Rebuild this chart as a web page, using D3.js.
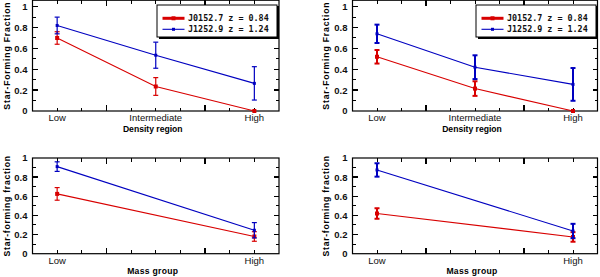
<!DOCTYPE html>
<html><head><meta charset="utf-8">
<script src="https://cdn.jsdelivr.net/npm/d3@7"></script>
<style>body{margin:0;background:#fff}</style>
</head><body>
<svg id="c" width="600" height="277" xmlns="http://www.w3.org/2000/svg"></svg>
<script>
// ---- data ----
const densityCats = ["Low", "Intermediate", "High"];
const massCats = ["Low", "High"];
const seriesNames = ["J0152.7 z = 0.84", "J1252.9 z = 1.24"];
const yTickValues = [0, 0.2, 0.4, 0.6, 0.8, 1];
const yTickLabels = ["0", "0.2", "0.4", "0.6", "0.8", "1"];
const yMinorValues = [0.1, 0.3, 0.5, 0.7, 0.9];

// top-left: density, sample A
const redA = [0.70, 0.235, 0.0];
const redAErr = [0.06, 0.085, 0.0];
const blueA = [0.82, 0.535, 0.265];
const blueAErr = [0.08, 0.125, 0.16];
// top-right: density, sample B
const redB = [0.52, 0.215, 0.0];
const redBErr = [0.065, 0.07, 0.0];
const blueB = [0.74, 0.42, 0.255];
const blueBErr = [0.088, 0.114, 0.157];
// bottom-left: mass, sample A
const redC = [0.625, 0.18];
const redCErr = [0.066, 0.05];
const blueC = [0.91, 0.245];
const blueCErr = [0.05, 0.08];
// bottom-right: mass, sample B
const redD = [0.42, 0.175];
const redDErr = [0.055, 0.05];
const blueD = [0.875, 0.237];
const blueDErr = [0.07, 0.075];

const RED = "#d80000", BLUE = "#0000c0";
const svg = d3.select("#c");

function panel(cfg) {
  const g = svg.append("g");
  const x = d3.scaleLinear().domain([-0.25, 2.25]).range([cfg.left, cfg.right]);
  const y = d3.scaleLinear().domain([0, 1]).range([cfg.bottom, cfg.y1]);
  const fTop = y(cfg.yMax);
  const n = cfg.cats.length;
  const pos = i => i * 2 / (n - 1);

  // ticks (inward, all four sides)
  const xMinor = d3.range(0, 2.001, 0.25).filter(v => v !== 0.5 && v !== 1.5);
  const xMajor = [0.5, 1.5];
  const tk = g.append("g").attr("stroke", "#000").attr("stroke-width", 1).attr("shape-rendering", "crispEdges");
  xMinor.forEach(v => {
    tk.append("line").attr("x1", x(v)).attr("x2", x(v)).attr("y1", cfg.bottom).attr("y2", cfg.bottom - 3.5);
    tk.append("line").attr("x1", x(v)).attr("x2", x(v)).attr("y1", fTop).attr("y2", fTop + 3.5);
  });
  xMajor.forEach(v => {
    tk.append("line").attr("x1", x(v)).attr("x2", x(v)).attr("y1", cfg.bottom).attr("y2", cfg.bottom - 6).attr("stroke-width", 1.5);
    tk.append("line").attr("x1", x(v)).attr("x2", x(v)).attr("y1", fTop).attr("y2", fTop + 6).attr("stroke-width", 1.5);
  });
  yTickValues.filter(v => v > 0 && y(v) > fTop + 1).forEach(v => {
    tk.append("line").attr("x1", cfg.left).attr("x2", cfg.left + 5).attr("y1", y(v)).attr("y2", y(v)).attr("stroke-width", 1.5);
    tk.append("line").attr("x1", cfg.right).attr("x2", cfg.right - 5).attr("y1", y(v)).attr("y2", y(v)).attr("stroke-width", 1.5);
  });
  yMinorValues.forEach(v => {
    tk.append("line").attr("x1", cfg.left).attr("x2", cfg.left + 3).attr("y1", y(v)).attr("y2", y(v));
    tk.append("line").attr("x1", cfg.right).attr("x2", cfg.right - 3).attr("y1", y(v)).attr("y2", y(v));
  });

  // frame
  g.append("rect").attr("x", cfg.left).attr("y", fTop)
    .attr("width", cfg.right - cfg.left).attr("height", cfg.bottom - fTop)
    .attr("fill", "none").attr("stroke", "#000").attr("stroke-width", 1.2);

  // y tick labels
  g.append("g").selectAll("text").data(yTickValues).join("text")
    .attr("x", cfg.left - 5).attr("y", d => y(d)).attr("dy", "0.36em")
    .attr("text-anchor", "end").attr("font-family", "Liberation Sans, Arial, sans-serif")
    .attr("font-size", 9.5).attr("font-weight", "bold").attr("fill", "#111")
    .text((d, i) => yTickLabels[i]);
  // x tick labels
  g.append("g").selectAll("text").data(cfg.cats).join("text")
    .attr("x", (d, i) => x(pos(i))).attr("y", cfg.bottom + 9.8)
    .attr("text-anchor", "middle").attr("font-family", "Liberation Sans, Arial, sans-serif")
    .attr("font-size", 9.5).attr("fill", "#111").text(d => d);
  // axis titles
  g.append("text").attr("x", (cfg.left + cfg.right) / 2 - 3).attr("y", cfg.bottom + 20.7)
    .attr("text-anchor", "middle").attr("font-family", "Liberation Sans, Arial, sans-serif")
    .attr("font-size", 8.6).attr("font-weight", "bold").attr("letter-spacing", cfg.xls).text(cfg.xlabel);
  g.append("text").attr("transform", `translate(${cfg.ylx},${(fTop + cfg.bottom) / 2}) rotate(-90)`)
    .attr("text-anchor", "middle").attr("font-family", "Liberation Sans, Arial, sans-serif")
    .attr("font-size", 8.6).attr("font-weight", "bold").attr("letter-spacing", cfg.yls).text(cfg.ylabel);

  // series
  const series = [
    {vals: cfg.red, err: cfg.redErr, color: RED, ms: 4},
    {vals: cfg.blue, err: cfg.blueErr, color: BLUE, ms: 3}
  ];
  const line = d3.line().x(d => x(d.p)).y(d => y(d.v));
  series.forEach(s => {
    const pts = s.vals.map((v, i) => ({p: pos(i), v, e: s.err[i]}));
    g.append("path").datum(pts).attr("d", line).attr("fill", "none")
      .attr("stroke", s.color).attr("stroke-width", 1.1);
    const eg = g.append("g").attr("stroke", s.color).attr("stroke-width", cfg.ebw);
    pts.filter(d => d.e > 0).forEach(d => {
      eg.append("line").attr("x1", x(d.p)).attr("x2", x(d.p)).attr("y1", y(d.v - d.e)).attr("y2", y(d.v + d.e));
      eg.append("line").attr("x1", x(d.p) - 2.5).attr("x2", x(d.p) + 2.5).attr("y1", y(d.v - d.e)).attr("y2", y(d.v - d.e));
      eg.append("line").attr("x1", x(d.p) - 2.5).attr("x2", x(d.p) + 2.5).attr("y1", y(d.v + d.e)).attr("y2", y(d.v + d.e));
    });
    g.append("g").selectAll("rect").data(pts).join("rect")
      .attr("x", d => x(d.p) - s.ms / 2).attr("y", d => y(d.v) - s.ms / 2)
      .attr("width", s.ms).attr("height", s.ms).attr("fill", s.color);
  });

  // legend
  if (cfg.legend) {
    const L = cfg.legend;
    const lg = g.append("g");
    lg.append("rect").attr("x", L.x + 2).attr("y", L.y + 2).attr("width", 120).attr("height", 32).attr("fill", "#000");
    lg.append("rect").attr("x", L.x).attr("y", L.y).attr("width", 120).attr("height", 32)
      .attr("fill", "#fff").attr("stroke", "#000").attr("stroke-width", 1);
    const rows = [{c: RED, w: 3, ms: 4, dy: 13.3}, {c: BLUE, w: 1.1, ms: 3, dy: 24.3}];
    rows.forEach((r, i) => {
      lg.append("line").attr("x1", L.x + 5.5).attr("x2", L.x + 27.5).attr("y1", L.y + r.dy).attr("y2", L.y + r.dy)
        .attr("stroke", r.c).attr("stroke-width", r.w);
      lg.append("rect").attr("x", L.x + 16.5 - r.ms / 2).attr("y", L.y + r.dy - r.ms / 2)
        .attr("width", r.ms).attr("height", r.ms).attr("fill", r.c);
      lg.append("text").attr("x", L.x + 31).attr("y", L.y + r.dy).attr("dy", "0.36em")
        .attr("font-family", "DejaVu Sans Mono, monospace").attr("font-size", 8.4).attr("font-weight", "bold")
        .attr("fill", "#111").text(seriesNames[i]);
    });
  }
}

panel({left: 32.5, right: 279, bottom: 111, y1: 6.7, yMax: 1.062, cats: densityCats,
  red: redA, redErr: redAErr, blue: blueA, blueErr: blueAErr,
  xlabel: "Density region", ylabel: "Star-Forming Fraction", ylx: 9.5, xls: 0, yls: 0.85, ebw: 1.2,
  legend: {x: 157, y: 5}});
panel({left: 352.5, right: 597.5, bottom: 111, y1: 6.7, yMax: 1.062, cats: densityCats,
  red: redB, redErr: redBErr, blue: blueB, blueErr: blueBErr,
  xlabel: "Density region", ylabel: "Star-Forming Fraction", ylx: 328.5, xls: 0, yls: 0.85, ebw: 2,
  legend: {x: 476, y: 5}});
panel({left: 32.5, right: 279, bottom: 253.7, y1: 158, yMax: 1, cats: massCats,
  red: redC, redErr: redCErr, blue: blueC, blueErr: blueCErr,
  xlabel: "Mass group", ylabel: "Star-forming fraction", ylx: 9.5, xls: 0.3, yls: 0.75, ebw: 1.2});
panel({left: 352.5, right: 597.5, bottom: 253.7, y1: 158, yMax: 1, cats: massCats,
  red: redD, redErr: redDErr, blue: blueD, blueErr: blueDErr,
  xlabel: "Mass group", ylabel: "Star-forming fraction", ylx: 328.5, xls: 0.3, yls: 0.75, ebw: 2});
</script>
</body></html>
